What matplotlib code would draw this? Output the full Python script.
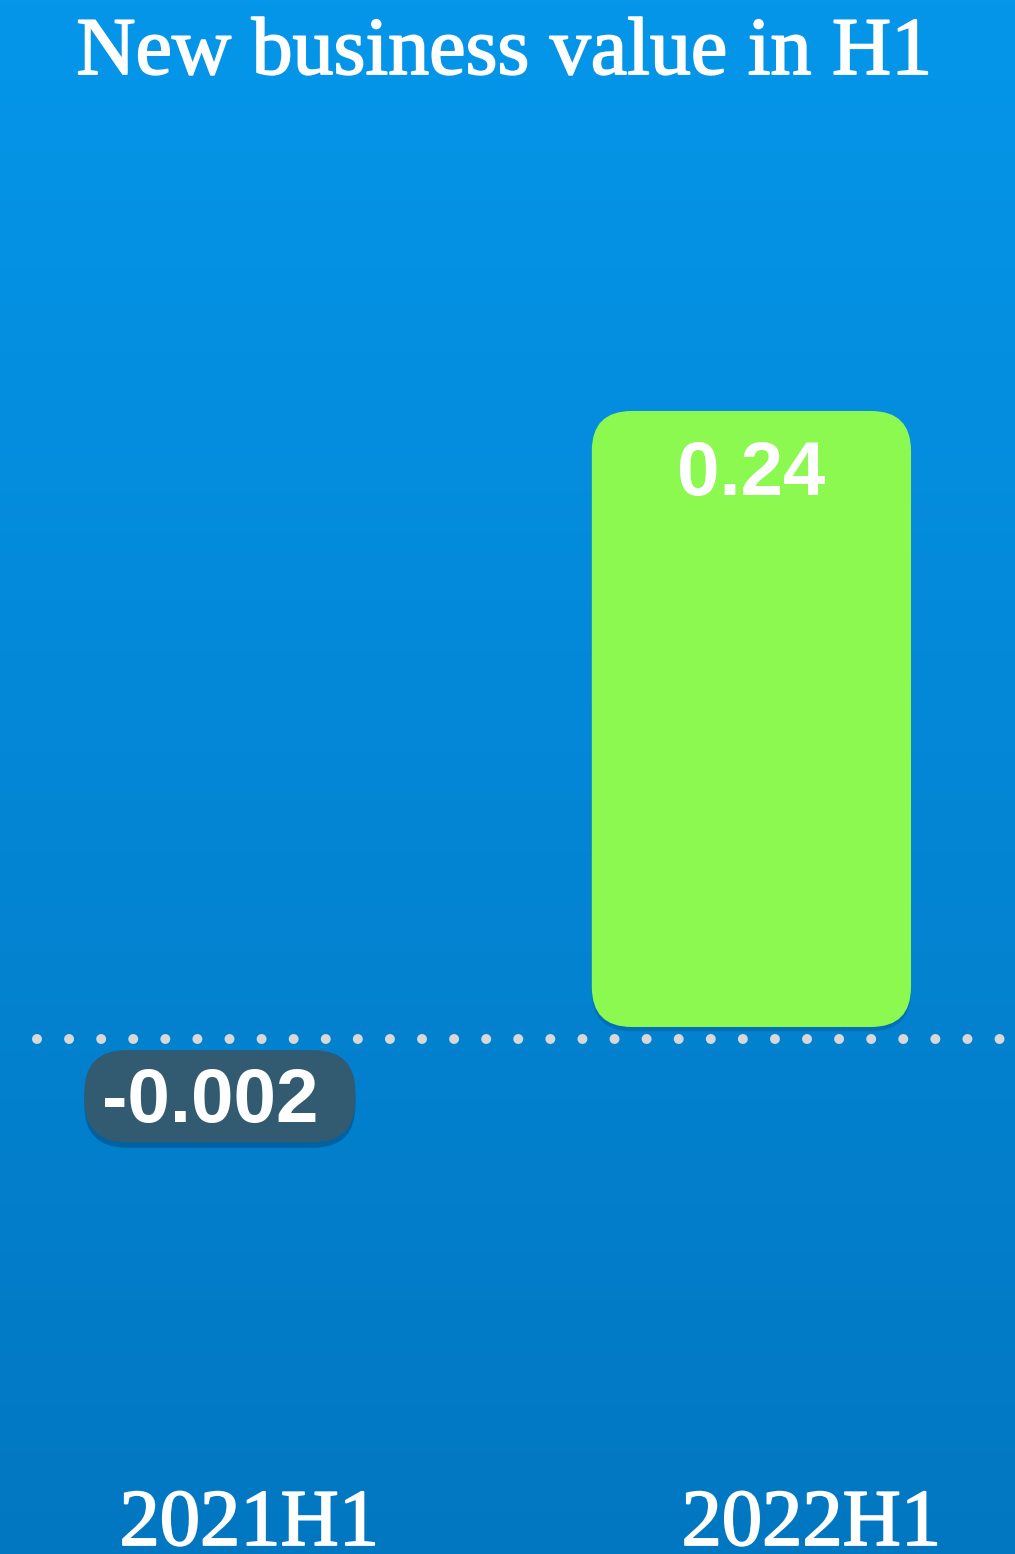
import numpy as np
import matplotlib
matplotlib.use("Agg")
import matplotlib.pyplot as plt
from matplotlib.patches import FancyBboxPatch
from matplotlib import patheffects as pe
from matplotlib.transforms import offset_copy, IdentityTransform
from matplotlib.colors import LinearSegmentedColormap

plt.rcParams["lines.scale_dashes"] = False

# data
categories = ["2021H1", "2022H1"]
values = [-0.002, 0.24]
value_labels = ["-0.002", "0.24"]
title = "New business value in H1"

BG_TOP = "#0596EA"
BG_BOTTOM = "#0277C1"
BAR_POS = "#8BF94F"
BOX_NEG = "#325A70"
DOT = "#D8D8D8"

fig = plt.figure(figsize=(10.15, 15.54), dpi=100)
ax = fig.add_axes([0, 0, 1, 1])
ax.set_xlim(-0.337, 1.469)
ax.set_ylim(-0.2053, 0.4001)
ax.axis("off")

# vertical gradient background
cmap = LinearSegmentedColormap.from_list("bg", [BG_BOTTOM, BG_TOP])
grad = np.linspace(0, 1, 256).reshape(-1, 1)
ax.imshow(grad, cmap=cmap, aspect="auto", origin="lower",
          extent=[*ax.get_xlim(), *ax.get_ylim()], zorder=0)

fig.canvas.draw()
# pixel scale of each axis, used to keep corners circular
px_x = ax.transData.transform((1, 0))[0] - ax.transData.transform((0, 0))[0]
px_y = ax.transData.transform((0, 1))[1] - ax.transData.transform((0, 0))[1]
aspect = px_x / px_y

xs = np.arange(len(categories))
bar_w = 0.568
bars = ax.bar(xs, values, width=bar_w, color="none", zorder=1)

label_font = dict(color="white", fontsize=55, fontweight="bold",
                  family="Liberation Sans")

for rect, v, lab in zip(bars, values, value_labels):
    cx = rect.get_x() + rect.get_width() / 2
    if v > 0:
        # rounded green bar with its value inside the top
        p = FancyBboxPatch((rect.get_x(), rect.get_y()), rect.get_width(), rect.get_height(),
                           boxstyle=f"round,pad=0,rounding_size={40 / px_x}",
                           mutation_aspect=aspect, facecolor=BAR_POS,
                           edgecolor="none", zorder=3)
        p.set_path_effects([pe.SimplePatchShadow(offset=(0, -3), shadow_rgbFace="#01528a",
                                                 alpha=0.35), pe.Normal()])
        ax.add_patch(p)
        ax.annotate(lab, xy=(cx, v), xytext=(0, -65), textcoords="offset pixels",
                    ha="center", va="center", zorder=5, **label_font)
    else:
        # negative value: dark rounded pill below the baseline
        ax_px, ay_px = ax.transData.transform((cx, v))
        box = FancyBboxPatch((ax_px - 105, ay_px - 110), 271, 92,
                             boxstyle="round,pad=0,rounding_size=42",
                             transform=IdentityTransform(), facecolor=BOX_NEG,
                             edgecolor="none", zorder=4)
        box.set_path_effects([pe.SimplePatchShadow(offset=(0, -4), shadow_rgbFace="#01406e",
                                                   alpha=0.45), pe.Normal()])
        ax.add_artist(box)
        ax.annotate(lab, xy=(cx, v), xytext=(21, -70), textcoords="offset pixels",
                    ha="center", va="center", zorder=6, **label_font)

# dotted baseline, drawn just below zero
base_tr = offset_copy(ax.get_yaxis_transform(), fig=fig, x=0, y=-12, units="dots")
ax.plot([0.036, 1.0], [0, 0], transform=base_tr, color=DOT, lw=7.2,
        linestyle=(0, (0.001, 23.1)), dash_capstyle="round", zorder=2)

# title and category labels
serif_weight = [pe.withStroke(linewidth=1.3, foreground="white")]
fig.text(0.4975, 1 - 74 / 1554, title, ha="center", va="baseline",
         color="white", fontsize=59, family="Liberation Serif",
         path_effects=serif_weight)
lab_tr = offset_copy(ax.get_xaxis_transform(), fig=fig, x=60, y=0, units="dots")
for x, c in zip(xs, categories):
    ax.text(x, 9 / 1554, c, transform=lab_tr, ha="center", va="baseline",
            color="white", fontsize=58, family="Liberation Serif",
            path_effects=serif_weight)

fig.savefig("out.png", dpi=100)
